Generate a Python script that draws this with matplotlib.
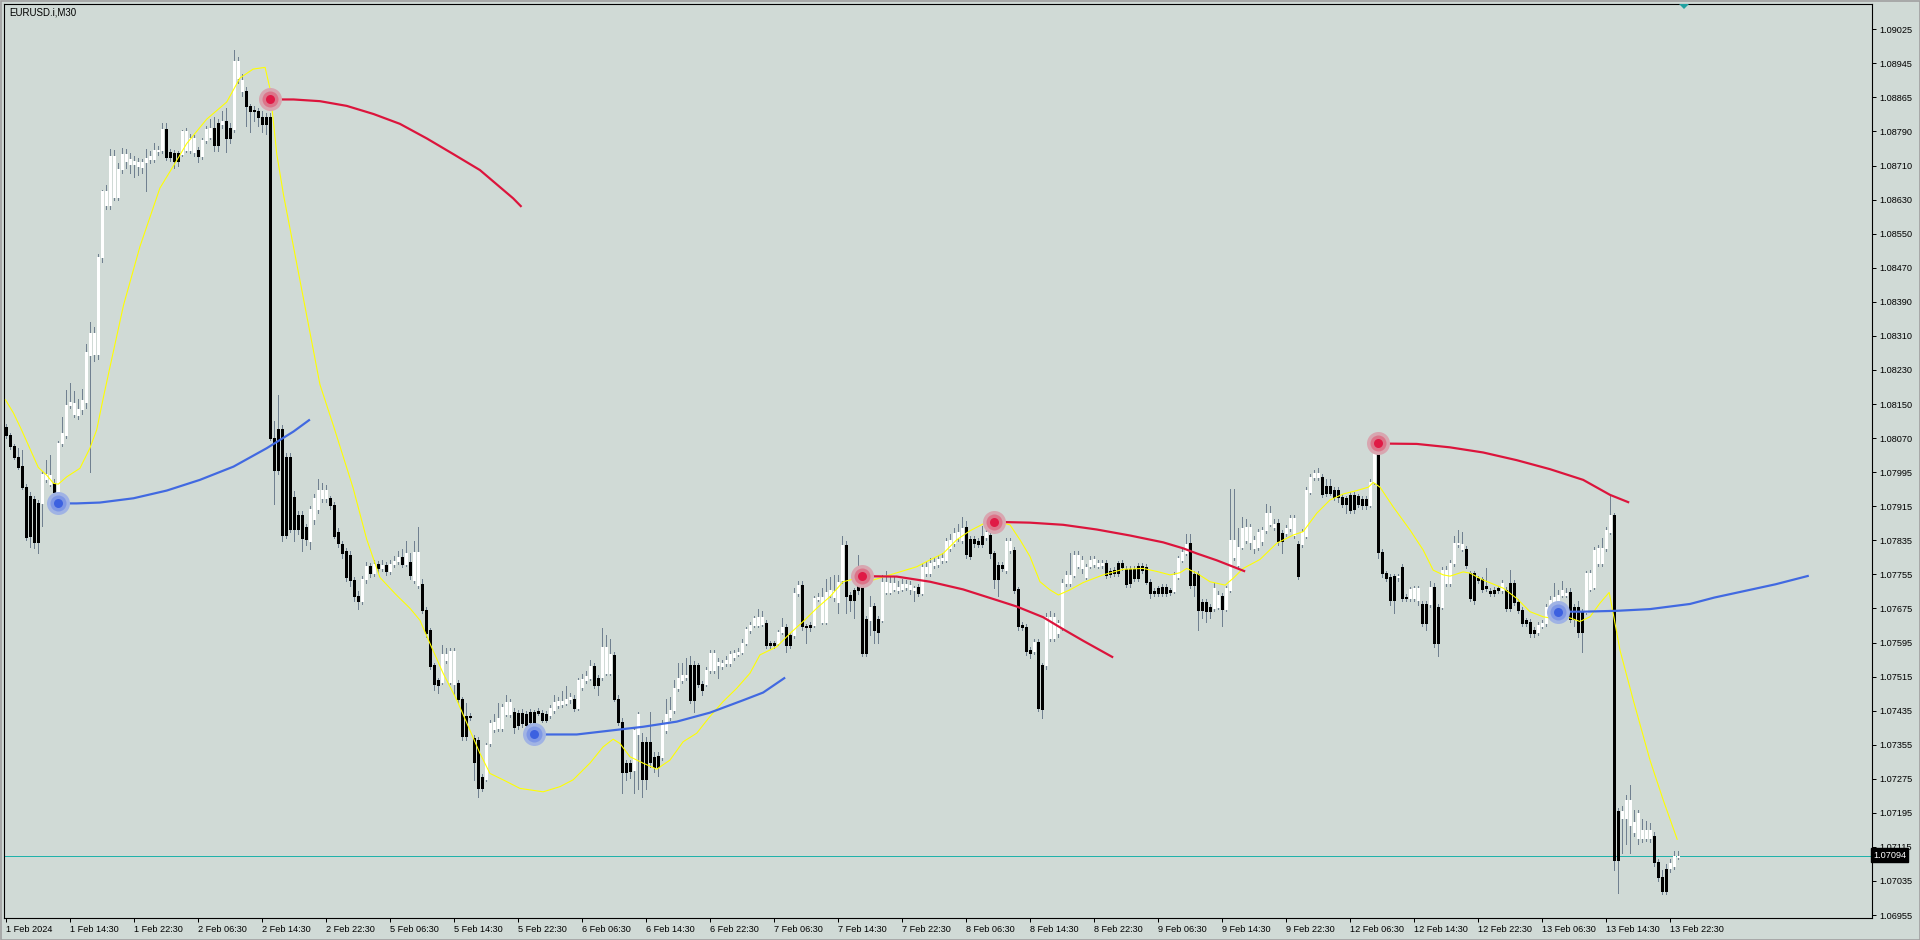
import numpy as np
import matplotlib
matplotlib.use("Agg")
import matplotlib.pyplot as plt
from matplotlib.patches import Rectangle

# ---------------- data (prices in points above 1.07000, i.e. 1e-5 units) ----------------
symbol_title = "EURUSD.i,M30"
base_price = 1.07000
point = 0.00001

opens = [1096,1077,1051,1026,1004,956,934,927,917,917,975,963,964,917,1058,1078,1147,1126,1124,1137,
 1155,1263,1266,1266,1493,1614,1614,1634,1634,1698,1718,1710,1710,1706,1704,1714,1722,1722,1741,1742,
 1792,1738,1736,1736,1734,1744,1744,1738,1742,1730,1767,1774,1795,1805,1803,1811,1795,1791,1911,1881,
 1881,1845,1837,1835,1821,1821,1821,1070,1090,1092,1026,1026,933,891,889,861,829,881,905,929,
 929,929,913,850,821,805,797,738,700,690,740,770,755,775,765,772,760,775,782,792,
 776,780,738,726,728,669,620,539,504,500,551,500,496,498,459,420,420,368,365,278,
 274,356,389,391,391,426,426,430,428,428,426,429,430,432,428,426,422,434,446,448,
 450,461,461,440,488,504,510,537,510,512,520,520,563,461,407,310,310,294,379,360,
 360,360,325,327,325,387,418,434,485,504,512,539,539,539,496,496,528,528,539,537,
 543,543,559,566,570,590,621,633,634,636,638,590,590,590,617,629,609,609,707,726,
 630,633,633,693,640,640,703,699,687,738,820,703,715,734,722,648,645,677,648,645,
 711,711,718,715,718,722,716,715,722,708,754,754,773,775,785,785,812,824,835,831,
 863,833,833,828,840,839,843,800,773,773,761,808,808,716,633,629,574,571,592,539,
 539,602,602,613,629,732,732,750,771,765,746,771,775,771,773,777,758,761,777,777,
 763,763,763,771,771,769,734,713,719,722,722,715,713,746,785,802,824,753,753,687,
 687,676,672,676,701,670,715,792,773,816,831,827,812,816,828,855,870,863,872,849,
 847,859,843,822,822,841,944,979,979,979,958,958,948,948,933,929,937,937,935,927,
 927,913,968,1050,804,754,746,747,744,769,699,695,697,691,682,682,682,722,676,676,
 731,731,777,821,810,810,754,754,742,740,724,713,715,719,715,715,730,730,687,669,
 645,641,621,617,630,637,660,676,687,703,703,711,676,676,664,664,718,722,777,777,
 812,851,890,197,181,181,166,150,134,134,134,134,140,80,45,62,64,70,91]
highs = [1102,1082,1056,1046,1042,962,943,935,925,992,1018,1030,975,1062,1118,1183,1199,1180,1160,1185,
 1290,1340,1330,1500,1650,1660,1746,1742,1712,1748,1745,1735,1728,1725,1722,1745,1740,1760,1752,1806,
 1806,1745,1742,1740,1790,1795,1780,1778,1750,1772,1800,1815,1820,1815,1835,1840,1805,1976,1960,1920,
 1890,1850,1845,1840,1835,1830,1830,1110,1170,1100,1035,1035,945,900,900,870,910,940,975,965,
 960,935,920,860,830,812,805,745,712,748,780,778,785,782,785,780,785,795,805,810,
 830,800,830,862,740,675,625,545,510,585,580,580,578,505,465,450,428,375,372,285,
 358,410,425,450,448,470,460,438,435,436,432,436,435,438,435,432,445,470,465,478,
 490,475,470,510,518,525,550,545,516,625,610,600,570,470,415,318,318,395,430,380,
 370,430,335,335,410,460,465,505,545,545,555,560,548,545,502,535,575,575,555,552,
 560,572,575,578,600,628,640,655,670,665,645,596,596,622,650,635,615,720,735,735,
 636,640,700,708,720,740,745,750,750,840,828,710,720,796,730,655,700,685,655,750,
 760,745,745,735,740,738,735,725,728,775,780,790,790,795,800,835,845,860,870,885,
 875,840,840,835,865,870,850,805,780,780,835,835,815,722,640,635,582,600,600,545,
 660,665,660,645,740,760,800,805,805,795,775,795,795,785,785,785,765,768,782,785,
 770,770,770,778,778,775,740,720,725,728,728,720,756,795,812,845,845,760,758,693,
 693,682,730,712,708,725,950,950,860,885,880,870,840,858,862,915,910,880,880,855,
 866,890,890,828,858,955,985,995,999,985,975,975,955,955,940,935,943,943,940,935,
 935,975,1040,1057,810,760,752,752,752,775,706,722,725,725,690,690,735,730,682,768,
 770,785,840,855,850,818,760,760,748,746,765,720,722,725,738,722,762,738,693,675,
 650,648,628,640,645,682,700,730,715,735,720,720,682,690,670,760,762,815,820,835,
 862,937,895,205,210,235,258,200,200,180,175,170,148,86,60,75,85,105,105]
lows = [1070,1045,1020,998,950,832,816,812,800,865,968,958,935,912,1050,1070,1139,1118,1115,1125,
 1140,991,1250,1255,1480,1605,1605,1625,1625,1690,1700,1690,1680,1685,1690,1646,1712,1715,1732,1735,
 1720,1718,1700,1705,1728,1738,1735,1728,1715,1722,1760,1768,1740,1740,1795,1738,1760,1785,1900,1870,
 1800,1785,1810,1800,1785,1780,1065,915,985,830,835,850,830,845,805,820,810,870,895,920,
 920,905,835,815,790,735,725,690,670,682,730,745,748,755,758,750,752,768,775,768,
 770,740,730,720,660,605,530,480,475,495,545,495,470,450,365,364,410,270,230,245,
 268,350,382,385,385,420,418,380,390,395,392,398,377,422,405,405,415,428,440,442,
 445,450,432,435,480,498,505,485,470,505,515,515,455,400,240,270,275,240,250,232,
 250,300,290,280,318,380,410,428,478,498,505,450,430,488,470,490,520,520,510,530,
 536,538,552,560,565,585,615,628,628,630,580,578,578,585,612,570,578,603,700,622,
 590,618,628,688,635,635,698,690,660,730,660,665,650,705,560,560,610,590,590,640,
 705,705,712,708,712,715,705,690,700,702,748,748,766,768,778,780,805,818,828,825,
 790,786,815,815,815,832,790,720,700,758,755,800,708,622,620,562,555,565,432,415,
 530,595,595,605,622,725,725,745,765,755,740,765,768,765,766,742,745,748,748,762,
 722,722,735,735,755,728,695,700,700,700,700,702,708,740,780,796,720,700,620,650,
 640,650,666,670,630,665,710,785,765,810,825,810,800,808,820,848,865,855,820,800,
 840,852,835,740,815,835,938,972,972,932,935,936,925,920,908,895,895,895,908,905,
 905,908,962,790,745,735,680,660,735,690,688,690,690,680,630,620,676,582,560,670,
 725,725,770,815,805,765,688,682,730,710,712,700,700,708,708,665,665,680,660,630,
 630,605,605,610,625,630,655,670,664,698,698,640,630,605,570,658,712,716,770,770,
 805,845,60,6,100,120,100,140,120,125,128,125,70,35,5,5,55,62,85]
closes = [1077,1050,1026,1003,956,839,840,827,827,986,985,983,944,1057,1082,1147,1155,1152,1137,1159,
 1271,1316,1316,1493,1646,1646,1730,1730,1698,1734,1734,1722,1718,1714,1714,1725,1730,1742,1744,1792,
 1726,1726,1717,1717,1787,1787,1770,1770,1730,1767,1792,1795,1754,1754,1811,1771,1771,1952,1952,1907,
 1845,1833,1833,1821,1803,1803,1070,994,994,842,842,857,857,857,837,833,905,929,949,949,
 949,913,841,825,802,744,738,700,690,740,770,755,775,765,772,760,775,782,792,776,
 800,750,803,803,668,613,537,496,493,565,566,573,573,459,373,373,417,313,253,253,
 352,403,407,415,442,454,452,395,399,403,399,405,403,428,411,411,438,454,456,456,
 461,465,438,504,506,514,537,493,493,582,582,565,461,407,290,290,292,387,426,274,
 274,313,302,302,403,426,434,485,508,516,516,457,457,496,481,528,567,567,547,545,
 551,566,568,570,590,623,633,650,652,652,586,586,586,617,629,586,586,707,726,630,
 627,627,695,699,699,711,714,713,734,820,701,691,691,715,567,567,676,621,617,734,
 734,732,732,722,729,729,726,719,708,769,769,778,781,786,789,828,831,849,851,859,
 799,794,824,822,822,851,800,740,740,765,828,828,715,630,629,571,567,592,440,436,
 652,652,652,637,732,750,750,796,796,785,769,785,786,777,778,750,752,754,754,769,
 729,730,742,742,761,734,708,708,708,708,708,711,750,789,804,822,726,726,669,668,
 666,666,719,703,670,719,831,831,816,859,863,863,831,851,855,894,894,870,828,828,
 859,882,884,747,851,948,979,989,989,939,941,942,933,931,916,916,902,903,916,913,
 913,968,1034,804,754,742,691,691,746,697,695,716,719,719,638,638,722,590,590,761,
 761,777,824,824,822,773,695,691,738,716,719,708,708,715,730,672,672,687,668,638,
 637,613,613,633,638,676,691,699,703,715,708,648,648,617,617,754,754,808,812,812,
 855,890,84,84,197,225,225,173,193,154,154,154,80,43,12,12,76,93,94]

# signal dots (bar index, price points)
red_dot_bars = [66, 214, 247, 343]
red_dot_vals = [1861, 747, 874, 1057]
blue_dot_bars = [13, 132, 388]
blue_dot_vals = [917, 377, 664]

# projection arcs (bar index, price points)
red_arc1_x = [66, 72, 78.6, 85.3, 92, 98.6, 105.3, 112, 118.6, 126.9, 129]
red_arc1_y = [1861, 1861, 1857, 1846, 1827, 1804, 1770, 1733, 1696, 1630, 1610]
red_arc2_x = [214, 222.8, 231.1, 239.4, 247.8, 252.8, 259.4, 264.4, 269.4, 276.9]
red_arc2_y = [747, 746, 734, 716, 691, 676, 651, 623, 596, 557]
red_arc3_x = [247, 256.1, 264.4, 272.8, 281.1, 289.4, 294.4, 297.8, 302.8, 309.9]
red_arc3_y = [874, 872, 867, 856, 842, 826, 812, 800, 784, 758]
red_arc4_x = [343, 352.8, 361.1, 369.4, 377.8, 386.1, 394.4, 401.1, 405.9]
red_arc4_y = [1057, 1056, 1048, 1036, 1018, 997, 972, 937, 919]
blue_arc1_x = [13, 17.8, 23.6, 32, 40.3, 48.6, 57, 65.3, 72, 76.1]
blue_arc1_y = [917, 917, 919, 929, 947, 972, 1003, 1046, 1085, 1113]
blue_arc2_x = [132, 142.8, 151.1, 159.4, 167.8, 176.1, 184.4, 189.4, 194.9]
blue_arc2_y = [377, 377, 386, 395, 407, 428, 457, 475, 510]
blue_arc3_x = [388, 394.4, 402.8, 411.1, 421.1, 427.2, 442.5, 450.8]
blue_arc3_y = [664, 664, 666, 670, 682, 697, 728, 748]

# yellow smoothing line (bar index, price points)
yellow_x = [0, 2, 4, 7, 8.2, 10.3, 12, 13.2, 15.3, 18.6, 21.1, 22.8, 24.5, 26.1, 29.5, 33.6, 38.6, 42, 45.3,
 50.3, 55.3, 58.6, 61.9, 64.9, 66.1, 67.8, 69.5, 72, 75.3, 78.6, 82, 86.9, 90.3, 93.6, 97.5, 101.1, 103.6,
 106.1, 109.4, 112.8, 116.1, 118.6, 121.1, 124.4, 128.6, 134.4, 138.6, 141.9, 146.1, 149.4, 151.9, 153.6,
 156.1, 159.4, 162.8, 166.1, 169.4, 172.8, 176.1, 179.4, 182.8, 186.1, 188.6, 192.8, 196.1, 199.4, 202.8,
 206.1, 209.4, 212.8, 216.9, 221.1, 227.8, 231.1, 234.4, 237.8, 241.1, 244.4, 247.8, 251.1, 253.6, 256.1,
 258.6, 261.1, 263.2, 266.1, 269.4, 274.4, 279.4, 284.4, 287.8, 291.1, 293.6, 295.3, 297.8, 301.1, 304.9,
 306.9, 309.4, 313.6, 317.8, 321.9, 324.4, 327.8, 331.1, 334.4, 337.8, 340.7, 341.9, 343.6, 346.9, 351.1,
 354.4, 356.9, 359.4, 361.1, 364.4, 366.1, 369.4, 374.4, 377.8, 381.1, 384.4, 386.9, 390.3, 393.6, 396.1,
 398.6, 400.9, 401.9, 403.6, 406.9, 411.1, 414.4, 417.9]
yellow_y = [1159, 1128, 1089, 1026, 1001, 983, 964, 962, 979, 999, 1046, 1089, 1166, 1235, 1380, 1517, 1654,
 1706, 1758, 1815, 1855, 1911, 1932, 1936, 1887, 1734, 1638, 1517, 1356, 1195, 1098, 953, 833, 744, 705,
 672, 644, 590, 520, 458, 387, 333, 286, 271, 251, 243, 255, 271, 310, 348, 366, 356, 325, 310, 296, 317,
 360, 380, 419, 454, 485, 520, 563, 582, 613, 641, 672, 699, 734, 742, 738, 750, 769, 785, 800, 832, 853,
 869, 874, 867, 832, 793, 734, 715, 703, 715, 732, 750, 763, 765, 758, 750, 755, 765, 754, 734, 726, 742,
 765, 786, 824, 843, 851, 894, 925, 939, 947, 955, 966, 955, 909, 855, 808, 761, 750, 747, 757, 754, 738,
 719, 695, 664, 652, 648, 652, 641, 652, 684, 709, 660, 574, 458, 317, 224, 132]

current_price = 1.07094
x_labels = ["1 Feb 2024", "1 Feb 14:30", "1 Feb 22:30", "2 Feb 06:30", "2 Feb 14:30", "2 Feb 22:30",
            "5 Feb 06:30", "5 Feb 14:30", "5 Feb 22:30", "6 Feb 06:30", "6 Feb 14:30", "6 Feb 22:30",
            "7 Feb 06:30", "7 Feb 14:30", "7 Feb 22:30", "8 Feb 06:30", "8 Feb 14:30", "8 Feb 22:30",
            "9 Feb 06:30", "9 Feb 14:30", "9 Feb 22:30", "12 Feb 06:30", "12 Feb 14:30", "12 Feb 22:30",
            "13 Feb 06:30", "13 Feb 14:30", "13 Feb 22:30"]
bars_per_label = 16
y_labels = ["1.06955", "1.07035", "1.07115", "1.07195", "1.07275", "1.07355", "1.07435", "1.07515",
            "1.07595", "1.07675", "1.07755", "1.07835", "1.07915", "1.07995", "1.08070", "1.08150",
            "1.08230", "1.08310", "1.08390", "1.08470", "1.08550", "1.08630", "1.08710", "1.08790",
            "1.08865", "1.08945", "1.09025"]

# ---------------- styling ----------------
BG = "#d0dad6"
WICK = "#708090"
FONT = "Liberation Sans"
FS = 6.6
W, H = 1920, 940
DPI = 100
PT = 72.0 / DPI  # one pixel in points

def px(v):
    return base_price + np.asarray(v, dtype=float) * point

o = px(opens); h = px(highs); l = px(lows); c = px(closes)
idx = np.arange(len(closes))

fig = plt.figure(figsize=(W / DPI, H / DPI), dpi=DPI)
fig.patch.set_facecolor(BG)
ax_l, ax_r, ax_t, ax_b = 4, 1872, 4, 918
ax = fig.add_axes([ax_l / W, (H - ax_b) / H, (ax_r - ax_l) / W, (ax_b - ax_t) / H])
ax.set_facecolor(BG)

ymin, ymax = 1.069481, 1.090841
ax.set_ylim(ymin, ymax)
ax.set_xlim(-0.375, 466.6)
unit_per_px = (ymax - ymin) / (ax_b - ax_t)

# current price line
ax.axhline(current_price, color="#20b2aa", lw=PT, zorder=1)

# candles: 1px wicks, 3px bodies
ax.vlines(idx, l, h, color=WICK, lw=PT, zorder=2, antialiased=False)
bull = c >= o
body_lo = np.minimum(o, c)
body_hi = body_lo + np.maximum(np.abs(c - o), unit_per_px)
ax.vlines(idx[bull], body_lo[bull], body_hi[bull], color="white", lw=3 * PT, zorder=3,
          antialiased=False, capstyle="butt")
ax.vlines(idx[~bull], body_lo[~bull], body_hi[~bull], color="black", lw=3 * PT, zorder=3,
          antialiased=False, capstyle="butt")

# yellow line
ax.plot(yellow_x, px(yellow_y), color="#ffff00", lw=1.1 * PT, zorder=4)

# arcs
for xs, ys in [(red_arc1_x, red_arc1_y), (red_arc2_x, red_arc2_y), (red_arc3_x, red_arc3_y),
               (red_arc4_x, red_arc4_y)]:
    ax.plot(xs, px(ys), color="#dc143c", lw=2.2 * PT, zorder=5, solid_capstyle="butt")
for xs, ys in [(blue_arc1_x, blue_arc1_y), (blue_arc2_x, blue_arc2_y), (blue_arc3_x, blue_arc3_y)]:
    ax.plot(xs, px(ys), color="#4169e1", lw=2.2 * PT, zorder=5, solid_capstyle="butt")

# dots with halos
def halo(xs, ys, cols):
    sizes = [(23 * PT) ** 2, (16 * PT) ** 2, (9 * PT) ** 2]
    for s, col in zip(sizes, cols):
        ax.scatter(xs, px(ys), s=s, color=col, linewidths=0, zorder=6)

halo(red_dot_bars, red_dot_vals, ["#d8a6b0", "#dc7489", "#e01a45"])
halo(blue_dot_bars, blue_dot_vals, ["#a0b3e4", "#7e97e5", "#3c61e0"])

# axes styling
for sp in ax.spines.values():
    sp.set_color("black")
    sp.set_linewidth(1.1 * PT)
ax.yaxis.tick_right()
ax.set_yticks(np.linspace(float(y_labels[0]), float(y_labels[-1]), len(y_labels)))
ax.set_yticklabels(y_labels)
ax.set_xticks(np.arange(len(x_labels)) * bars_per_label)
ax.set_xticklabels(x_labels)
ax.tick_params(axis="y", direction="out", length=3, width=PT, pad=2, labelsize=FS,
               colors="black", right=True, left=False)
ax.tick_params(axis="x", direction="out", length=3, width=PT, pad=2, labelsize=FS, colors="black")
for t in ax.get_xticklabels():
    t.set_ha("left")
    t.set_fontfamily(FONT)
for t in ax.get_yticklabels():
    t.set_fontfamily(FONT)

# current price tag
fig.text(1873 / W, 1 - 855 / H, "1.07094", color="white", fontsize=FS, family=FONT,
         va="center", ha="left",
         bbox=dict(boxstyle="square,pad=0.25", facecolor="black", edgecolor="black"))

# title
fig.text(9 / W, 1 - 12.5 / H, symbol_title, color="black", fontsize=FS + 0.4, family=FONT,
         va="center", ha="left")

# chart shift marker
fig.patches.append(plt.Polygon([[1679 / W, 1 - 4 / H], [1689 / W, 1 - 4 / H], [1684 / W, 1 - 9 / H]],
                               closed=True, facecolor="#20a0a0", edgecolor="none",
                               transform=fig.transFigure, figure=fig))

# window border
fig.patches.append(Rectangle((0.5 / W, 0.5 / H), (W - 1) / W, (H - 1) / H, fill=False,
                             edgecolor="#a0a0a0", lw=1.2, transform=fig.transFigure, figure=fig))

fig.savefig("out.png", dpi=DPI, facecolor=BG)
